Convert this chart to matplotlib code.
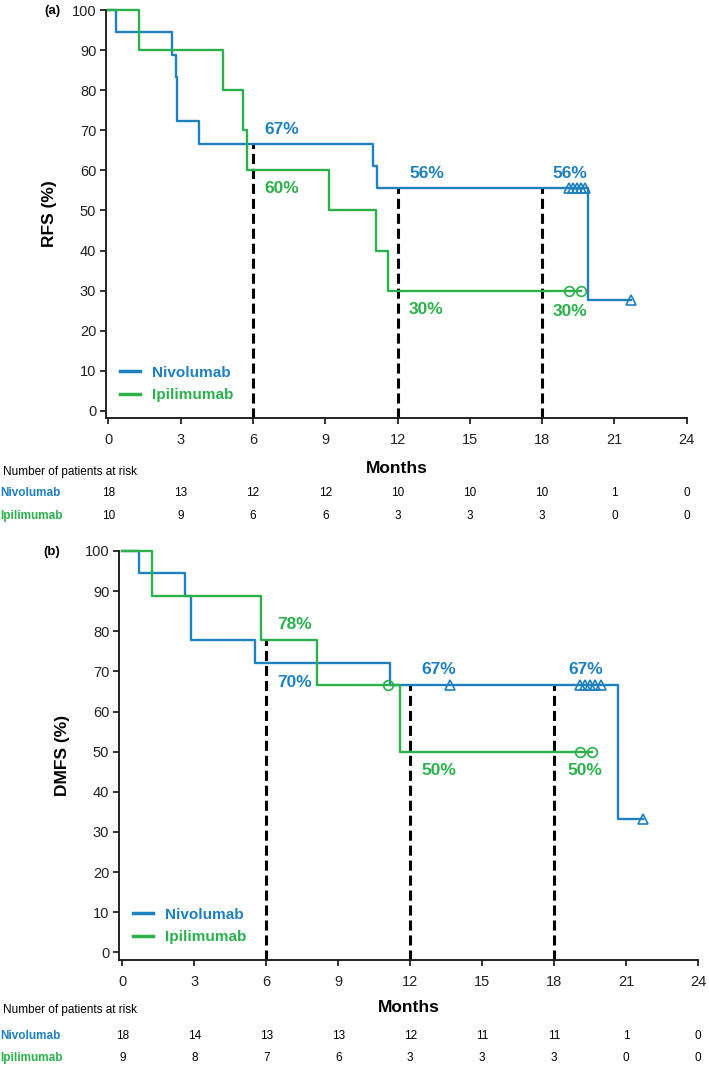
import numpy as np
import matplotlib
matplotlib.use("Agg")
import matplotlib.pyplot as plt
from matplotlib.transforms import blended_transform_factory
from matplotlib.lines import Line2D

plt.rcParams['font.family'] = ['Liberation Sans', 'DejaVu Sans']
NARROW = ['Liberation Sans Narrow', 'Liberation Sans', 'DejaVu Sans']

BLUE = '#1f80c0'
GREEN = '#2bb04c'

# ---------------- Data: panel (a) RFS ----------------
a_nivo_t = [0, 0.3, 2.65, 2.8, 2.85, 3.75, 11.0, 11.15, 19.9, 21.7]
a_nivo_s = [100, 94.4, 88.9, 83.3, 72.2, 66.7, 61.1, 55.6, 27.8, 27.8]
a_nivo_cens_t = [19.1, 19.28, 19.45, 19.62, 19.8, 21.7]
a_nivo_cens_s = [55.6, 55.6, 55.6, 55.6, 55.6, 27.8]

a_ipi_t = [0, 1.25, 4.75, 5.6, 5.75, 9.15, 11.1, 11.6, 19.6]
a_ipi_s = [100, 90, 80, 70, 60, 50, 40, 30, 30]
a_ipi_cens_t = [19.1, 19.6]
a_ipi_cens_s = [30, 30]

a_labels = ['67%', '60%', '56%', '56%', '30%', '30%']
a_label_x = [7.2, 7.2, 13.2, 19.15, 13.2, 19.15]
a_label_y = [70.3, 55.4, 59.3, 59.3, 25.4, 24.9]
a_label_series = ['nivo', 'ipi', 'nivo', 'nivo', 'ipi', 'ipi']

a_risk_nivo = [18, 13, 12, 12, 10, 10, 10, 1, 0]
a_risk_ipi = [10, 9, 6, 6, 3, 3, 3, 0, 0]

# ---------------- Data: panel (b) DMFS ----------------
b_nivo_t = [0, 0.68, 2.6, 2.85, 5.55, 11.15, 20.68, 21.7]
b_nivo_s = [100, 94.4, 88.9, 77.8, 72.2, 66.7, 33.3, 33.3]
b_nivo_cens_t = [13.65, 19.1, 19.3, 19.5, 19.7, 19.95, 21.7]
b_nivo_cens_s = [66.7, 66.7, 66.7, 66.7, 66.7, 66.7, 33.3]

b_ipi_t = [0, 1.25, 5.77, 8.13, 11.58, 19.58]
b_ipi_s = [100, 88.9, 77.8, 66.7, 50, 50]
b_ipi_cens_t = [11.08, 19.1, 19.58]
b_ipi_cens_s = [66.7, 50, 50]

b_labels = ['78%', '70%', '67%', '67%', '50%', '50%']
b_label_x = [7.2, 7.2, 13.2, 19.3, 13.2, 19.3]
b_label_y = [81.8, 67.2, 70.5, 70.5, 45.4, 45.4]
b_label_series = ['ipi', 'nivo', 'nivo', 'nivo', 'ipi', 'ipi']

b_risk_nivo = [18, 14, 13, 13, 12, 11, 11, 1, 0]
b_risk_ipi = [9, 8, 7, 6, 3, 3, 3, 0, 0]

landmarks = [6, 12, 18]
x_ticks = [0, 3, 6, 9, 12, 15, 18, 21, 24]
y_ticks = [0, 10, 20, 30, 40, 50, 60, 70, 80, 90, 100]
series_names = ['Nivolumab', 'Ipilimumab']

W, H = 709, 1068
fig = plt.figure(figsize=(W / 100, H / 100), dpi=100)


def surv_at(t_arr, s_arr, t):
    idx = np.searchsorted(np.asarray(t_arr), t, side='right') - 1
    return s_arr[max(idx, 0)]


def panel(rect_px, xlim_left, ylim_bottom, nivo, ipi, labels, ylabel, tag,
          risk_nivo, risk_ipi, risk_y_px, months_y):
    l, t, r, b = rect_px
    ax = fig.add_axes([l / W, 1 - b / H, (r - l) / W, (b - t) / H])
    ax.set_xlim(xlim_left, 24)
    ax.set_ylim(ylim_bottom, 100)
    for sp in ['top', 'right']:
        ax.spines[sp].set_visible(False)
    for sp in ['left', 'bottom']:
        ax.spines[sp].set_linewidth(1.4)
        ax.spines[sp].set_color('#222222')
    ax.set_xticks(x_ticks)
    ax.set_yticks(y_ticks)
    ax.tick_params(direction='out', length=4, width=1.3, labelsize=10.5,
                   colors='#222222', pad=3)
    ax.tick_params(axis='x', pad=7)

    # dashed landmark lines
    for lm in landmarks:
        top = max(surv_at(nivo[0], nivo[1], lm), surv_at(ipi[0], ipi[1], lm))
        ax.plot([lm, lm], [ylim_bottom, top], color='black', lw=2.2,
                linestyle=(0, (3.3, 1.6)), zorder=2, clip_on=False)

    # curves
    for (tt, ss, ct, cs), col, mk in [(nivo, BLUE, '^'), (ipi, GREEN, 'o')]:
        ax.step(tt, ss, where='post', color=col, lw=1.7, zorder=3, clip_on=False)
        ax.plot(ct, cs, linestyle='none', marker=mk, ms=6.5 if mk == '^' else 7,
                mfc='none', mec=col, mew=1.2, zorder=4, clip_on=False)

    # percentage annotations
    txt, lx, ly, ser = labels
    for s_, x_, y_, sr in zip(txt, lx, ly, ser):
        ax.text(x_, y_, s_, color=BLUE if sr == 'nivo' else GREEN,
                fontsize=12.5, fontweight='bold', ha='center', va='center')

    # legend
    handles = [Line2D([], [], color=BLUE, lw=2.5), Line2D([], [], color=GREEN, lw=2.5)]
    leg = ax.legend(handles, series_names, loc='lower left',
                    bbox_to_anchor=(0.0, 0.005), frameon=False, handlelength=1.3,
                    handletextpad=0.8, labelspacing=0.55,
                    prop={'weight': 'bold', 'size': 11})
    for txt_obj, col in zip(leg.get_texts(), [BLUE, GREEN]):
        txt_obj.set_color(col)

    ax.set_ylabel(ylabel, fontsize=12.5, fontweight='bold')
    ax.yaxis.set_label_coords(-0.085, 0.5)
    ax.set_xlabel('Months', fontsize=12.5, fontweight='bold')
    ax.xaxis.set_label_coords(0.5, months_y)

    fig.text(52 / W, 1 - (t + 1) / H, tag, fontsize=9.5, fontweight='bold',
             ha='center', va='center')

    # risk table
    y0, y1, y2 = risk_y_px
    fig.text(3 / W, 1 - y0 / H, 'Number of patients at risk', fontsize=8.5,
             family=NARROW, ha='left', va='center')
    fig.text(0 / W, 1 - y1 / H, series_names[0], fontsize=8.5, family=NARROW,
             color=BLUE, fontweight='bold', ha='left', va='center')
    fig.text(0 / W, 1 - y2 / H, series_names[1], fontsize=8.5, family=NARROW,
             color=GREEN, fontweight='bold', ha='left', va='center')
    trans = blended_transform_factory(ax.transData, fig.transFigure)
    for xv, n1, n2 in zip(x_ticks, risk_nivo, risk_ipi):
        ax.text(xv, 1 - y1 / H, str(n1), transform=trans, fontsize=8.5,
                family=NARROW, ha='center', va='center', clip_on=False)
        ax.text(xv, 1 - y2 / H, str(n2), transform=trans, fontsize=8.5,
                family=NARROW, ha='center', va='center', clip_on=False)
    return ax


panel((106, 10, 686.7, 418), -0.1, -1.75,
      (a_nivo_t, a_nivo_s, a_nivo_cens_t, a_nivo_cens_s),
      (a_ipi_t, a_ipi_s, a_ipi_cens_t, a_ipi_cens_s),
      (a_labels, a_label_x, a_label_y, a_label_series),
      'RFS (%)', '(a)', a_risk_nivo, a_risk_ipi, (472, 493, 516), -0.105)

panel((119, 551, 698, 960), -0.14, -1.9,
      (b_nivo_t, b_nivo_s, b_nivo_cens_t, b_nivo_cens_s),
      (b_ipi_t, b_ipi_s, b_ipi_cens_t, b_ipi_cens_s),
      (b_labels, b_label_x, b_label_y, b_label_series),
      'DMFS (%)', '(b)', b_risk_nivo, b_risk_ipi, (1010, 1036, 1058), -0.097)

fig.savefig('out.png', dpi=100)
